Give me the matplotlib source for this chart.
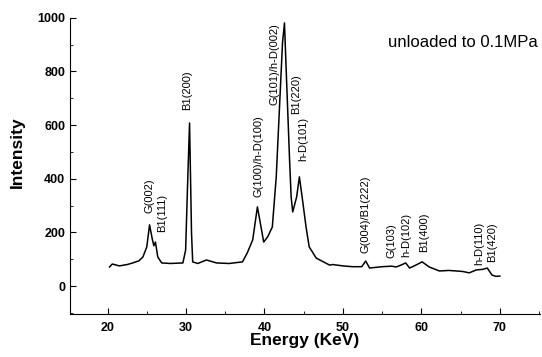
import numpy as np
import matplotlib.pyplot as plt
from matplotlib.ticker import MultipleLocator

# =========================
# Data
# =========================

energy = [20.25, 20.6, 21.5, 22.5, 23.2, 24.0, 24.5, 25.0, 25.35, 25.7, 25.9,
          26.1, 26.4, 26.9, 28.0, 29.6, 29.95, 30.2, 30.45, 30.7, 30.85, 31.5,
          32.6, 33.9, 35.5, 37.2, 37.8, 38.5, 39.1, 39.5, 39.9, 40.4, 41.0,
          41.5, 41.9, 42.3, 42.55, 42.8, 43.2, 43.4, 43.6, 44.1, 44.45, 44.8,
          45.3, 45.7, 46.6, 48.3, 48.7, 50.0, 51.2, 52.4, 52.9, 53.4, 55.0,
          56.2, 56.8, 57.4, 58.0, 58.5, 59.3, 60.1, 61.0, 62.3, 63.5, 64.5,
          65.3, 66.1, 67.0, 67.8, 68.4, 69.0, 69.5, 70.0]
intensity = [71, 82, 75, 80, 86, 94, 108, 146, 228, 175, 150,
             164, 108, 86, 84, 86, 134, 380, 608, 198, 90, 84,
             97, 86, 84, 90, 123, 172, 295, 230, 164, 183, 220,
             407, 657, 907, 981, 780, 470, 332, 276, 332, 407, 332,
             220, 146, 104, 78, 80, 75, 72, 72, 93, 67, 72,
             74, 71, 78, 86, 67, 78, 90, 71, 56, 58, 56,
             54, 49, 60, 62, 67, 41, 36, 37]

peak_labels = ["G(002)", "B1(111)", "B1(200)", "G(100)/h-D(100)",
               "G(101)/h-D(002)", "B1(220)", "h-D(101)", "G(004)/B1(222)",
               "G(103)", "h-D(102)", "B1(400)", "h-D(110)", "B1(420)"]
label_x = [25.35, 27.0, 30.2, 39.2, 41.3, 44.0, 44.9, 52.9, 56.2, 58.1,
           60.4, 67.4, 69.0]
label_y = [272, 200, 657, 332, 675, 640, 465, 123, 104, 108, 127, 78, 90]

# =========================
# Plot
# =========================

plt.rcParams['font.family'] = ['Liberation Sans', 'DejaVu Sans']

fig = plt.figure(figsize=(5.42, 3.57), dpi=100)
ax = fig.add_axes([0.129, 0.12, 0.867, 0.83])

ax.plot(energy, intensity, color="black", linewidth=1.1)

for txt, x, y in zip(peak_labels, label_x, label_y):
    ax.text(x, y, txt, rotation=90, ha="center", va="bottom", fontsize=8)

ax.text(55.7, 907, "unloaded to 0.1MPa", ha="left", va="center", fontsize=12)

ax.set_xlim(15.2, 75.1)
ax.set_ylim(-105, 1000)
ax.xaxis.set_major_locator(MultipleLocator(10))
ax.xaxis.set_minor_locator(MultipleLocator(5))
ax.yaxis.set_major_locator(MultipleLocator(200))
ax.yaxis.set_minor_locator(MultipleLocator(100))
ax.tick_params(which="both", direction="in", labelsize=9)
ax.tick_params(which="major", length=4)
ax.tick_params(which="minor", length=2)
ax.tick_params(axis="x", pad=6)
for lab in ax.get_xticklabels() + ax.get_yticklabels():
    lab.set_fontweight("bold")

ax.spines["top"].set_visible(False)
ax.spines["right"].set_visible(False)

ax.set_xlabel("Energy (KeV)", fontsize=12.5, fontweight="bold", labelpad=-1)
ax.set_ylabel("Intensity", fontsize=12.5, fontweight="bold")
ax.yaxis.set_label_coords(-0.096, 0.547)

fig.savefig("out.png", dpi=100)
